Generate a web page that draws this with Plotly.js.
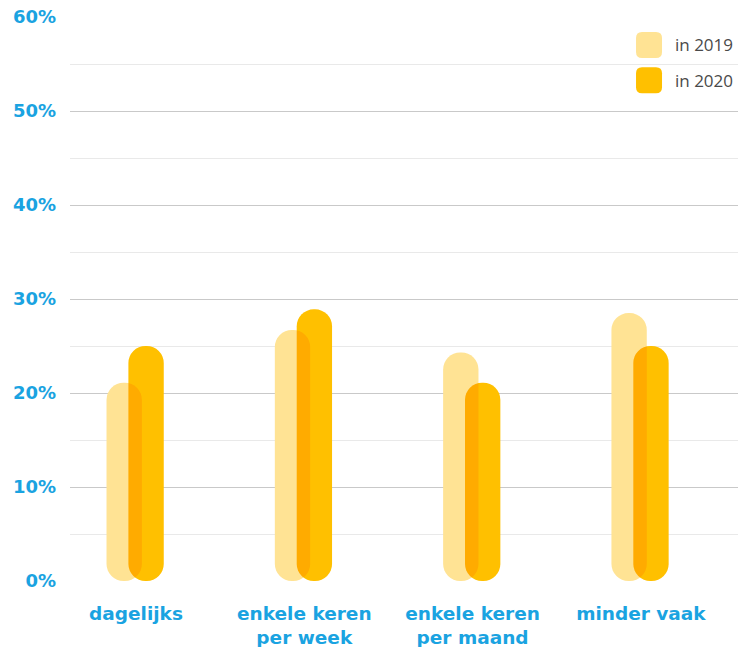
<!DOCTYPE html>
<html>
<head>
<meta charset="utf-8">
<script src="https://cdn.plot.ly/plotly-3.0.1.min.js"></script>
<style>
html,body{margin:0;padding:0;background:#fff;}
#chart{width:738px;height:647px;}
.barlayer .trace:nth-child(n+2) path{mix-blend-mode:multiply;}
</style>
</head>
<body>
<div id="chart"></div>
<script>
var categories = ['dagelijks', 'enkele keren<br>per week', 'enkele keren<br>per maand', 'minder vaak'];
var values2019 = [21.1, 26.7, 24.3, 28.5];
var values2020 = [25.0, 28.9, 21.1, 25.0];
var seriesNames = ['in 2019', 'in 2020'];
var yTickValues = [0, 10, 20, 30, 40, 50, 60];
var yTickLabels = ['0%', '10%', '20%', '30%', '40%', '50%', '60%'];

var color2019 = '#FFE394';
var color2020 = '#FFC000';
var blue = '#1AA3E1';

function zero(){ return 0; }

function pillTrace(vals, color, offset, name){
  return {
    type: 'bar', x: categories, y: vals, base: vals.map(zero),
    offset: offset, width: 0.21,
    marker: {color: color, cornerradius: '50%', line: {width: 0}},
    showlegend: false, name: name, hoverinfo: 'skip'
  };
}

var data = [
  pillTrace(values2019, color2019, -0.175, seriesNames[0]),
  pillTrace(values2020, color2020, -0.045, seriesNames[1])
];

var sq = 'M -7,-13 H 7 Q 13,-13 13,-7 V 7 Q 13,13 7,13 H -7 Q -13,13 -13,7 V -7 Q -13,-13 -7,-13 Z';
var legY = [0.9504, 0.888];
var legColors = [color2019, color2020];
var shapes = [], annotations = [];
for (var i = 0; i < 2; i++){
  shapes.push({type:'path', xref:'paper', yref:'paper', xsizemode:'pixel', ysizemode:'pixel',
    xanchor:0.8668, yanchor:legY[i], path: sq, fillcolor: legColors[i], line:{width:0}});
  annotations.push({xref:'paper', yref:'paper', x:0.9027, y:legY[i], xanchor:'left', yanchor:'middle',
    text: seriesNames[i], showarrow:false, font:{family:'Open Sans, sans-serif', size:17, color:'#4a4a4a'}});
}

var layout = {
  width: 738, height: 647,
  margin: {l: 70, r: 0, t: 17, b: 66, pad: 0},
  paper_bgcolor: '#fff', plot_bgcolor: '#fff',
  barmode: 'overlay',
  showlegend: false,
  xaxis: {
    type: 'category', range: [-0.392, 3.577],
    showgrid: false, zeroline: false, showline: false, ticks: '',
    ticklabelstandoff: 19,
    tickfont: {family: 'DejaVu Sans, sans-serif', size: 18.5, color: blue, weight: 700}
  },
  yaxis: {
    range: [0, 60], tickvals: yTickValues, ticktext: yTickLabels,
    showgrid: true, gridcolor: '#c9c9c9', gridwidth: 1,
    minor: {dtick: 5, showgrid: true, gridcolor: '#e9e9e9', gridwidth: 1, ticks: ''},
    zeroline: false, showline: false, ticks: '',
    ticklabelstandoff: 13,
    tickfont: {family: 'DejaVu Sans, sans-serif', size: 18, color: blue, weight: 700}
  },
  shapes: shapes,
  annotations: annotations
};

Plotly.newPlot('chart', data, layout, {displayModeBar: false, staticPlot: true});
</script>
</body>
</html>
